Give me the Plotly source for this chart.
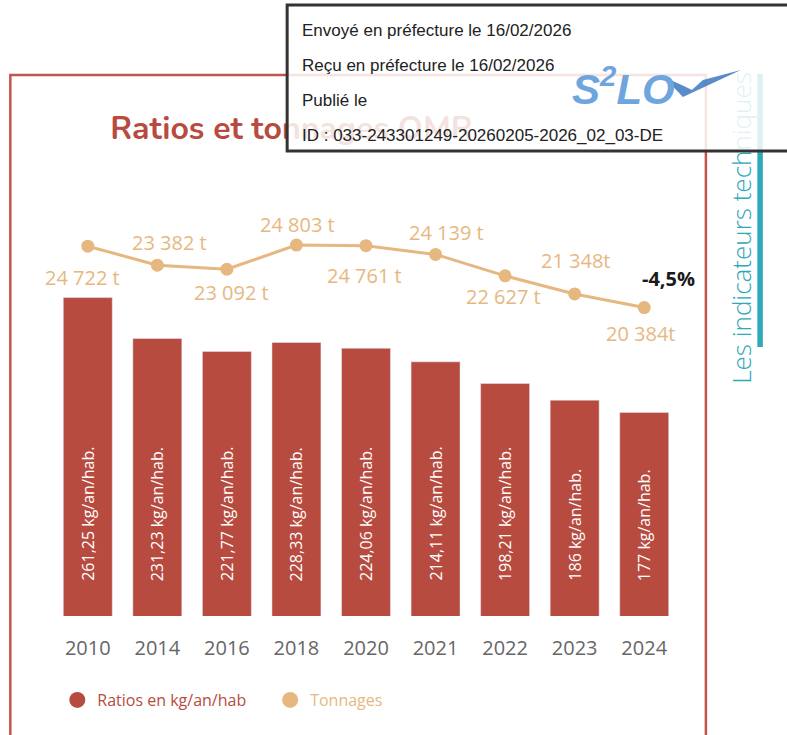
import plotly.graph_objects as go

# ---------------- data ----------------
years = ["2010", "2014", "2016", "2018", "2020", "2021", "2022", "2023", "2024"]
ratios = [261.25, 231.23, 221.77, 228.33, 224.06, 214.11, 198.21, 186, 177]
ratio_labels = ["261,25 kg/an/hab.", "231,23 kg/an/hab.", "221,77 kg/an/hab.",
                "228,33 kg/an/hab.", "224,06 kg/an/hab.", "214,11 kg/an/hab.",
                "198,21 kg/an/hab.", "186 kg/an/hab.", "177 kg/an/hab."]
tonnages = [24722, 23382, 23092, 24803, 24761, 24139, 22627, 21348, 20384]
tonnage_labels = ["24 722 t", "23 382 t", "23 092 t", "24 803 t", "24 761 t",
                  "24 139 t", "22 627 t", "21 348t", "20 384t"]

title_text = "Ratios et tonnages OMR"
side_text = "Les indicateurs techniques"
stamp_lines = ["Envoyé en préfecture le 16/02/2026",
               "Reçu en préfecture le 16/02/2026",
               "Publié le",
               "ID : 033-243301249-20260205-2026_02_03-DE"]
legend_names = ["Ratios en kg/an/hab", "Tonnages"]

# ---------------- style ----------------
RED = "#B84B40"
TAN = "#E6B880"
TEAL = "#2EA9B8"
W, H = 787, 735
ML, MR, MT, MB = 52.7, 107.9, 160, 119
PW, PH = W - ML - MR, H - MT - MB


def px(x):
    return (x - ML) / PW


def py(y):
    return (H - MB - y) / PH


# label offsets (style)
lab_dx = [-5, 12, 5, 1, -2, 11, -2, 1, -3]
lab_dy = [-31, 23, -23, 21, -30, 22, -21, 33, -26]

last_change = (tonnages[-1] - tonnages[-2]) / tonnages[-2] * 100
change_text = f"{last_change:.1f}%".replace(".", ",")

fig = go.Figure()
fig.add_trace(go.Bar(x=years, y=ratios, marker=dict(color=RED), showlegend=False,
                     hoverinfo="skip"))
fig.add_trace(go.Scatter(x=years, y=tonnages, yaxis="y2", mode="lines+markers",
                         line=dict(color=TAN, width=3),
                         marker=dict(color=TAN, size=13), showlegend=False,
                         hoverinfo="skip"))
# legend-only entries (circle icons), one legend each for exact placement
fig.add_trace(go.Scatter(x=[None], y=[None], mode="markers", legend="legend",
                         marker=dict(color=RED, size=18),
                         name=f"<span style='color:{RED}'>{legend_names[0]}</span>"))
fig.add_trace(go.Scatter(x=[None], y=[None], mode="markers", legend="legend2",
                         marker=dict(color=TAN, size=18),
                         name=f"<span style='color:{TAN}'>{legend_names[1]}</span>"))

annotations = []
y_bottom = 27.6
for i, lab in enumerate(ratio_labels):
    annotations.append(dict(x=i, y=y_bottom, xref="x", yref="y", text=lab,
                            textangle=-90, yanchor="bottom", xanchor="center",
                            yshift=33, showarrow=False,
                            font=dict(family="Open Sans", size=16, color="white")))
for i, (v, lab, dx, dy) in enumerate(zip(tonnages, tonnage_labels, lab_dx, lab_dy)):
    annotations.append(dict(x=i, y=v, xref="x", yref="y2", text=lab,
                            xshift=dx, yshift=dy, showarrow=False,
                            font=dict(family="Open Sans", size=20, color=TAN)))
annotations.append(dict(x=len(years) - 1, y=tonnages[-1], xref="x", yref="y2",
                        text=f"<b>{change_text}</b>", xshift=24, yshift=29,
                        showarrow=False,
                        font=dict(family="Open Sans", size=20, color="#1a1a1a")))
# stamp text lines
for i, line in enumerate(stamp_lines):
    annotations.append(dict(x=px(300), y=py(31 + i * 34.7), xref="paper", yref="paper",
                            text=line, xanchor="left", yanchor="middle",
                            showarrow=False,
                            font=dict(family="Liberation Sans", size=17, color="#222222")))
# logo
annotations.append(dict(x=px(624), y=py(86), xref="paper", yref="paper",
                        text="<b><i>S<sup>2</sup>LO</i></b>", showarrow=False,
                        xanchor="center", yanchor="middle",
                        font=dict(family="Liberation Sans", size=42, color="#6FA5DE")))

shapes = [
    # frame
    dict(type="rect", xref="paper", yref="paper", x0=px(10), x1=px(706),
         y0=py(760), y1=py(75), line=dict(color="#C0564C", width=2.5), layer="below"),
    # teal bar
    dict(type="rect", xref="paper", yref="paper", x0=px(757.5), x1=px(763),
         y0=py(347), y1=py(74), line=dict(width=0), fillcolor=TEAL, layer="below"),
    # title
    dict(type="rect", xref="paper", yref="paper", x0=px(107), x1=px(520),
         y0=py(148), y1=py(108), line=dict(width=0), layer="below",
         label=dict(text=f"<b>{title_text}</b>", textposition="middle left", padding=0,
                    font=dict(family="Nunito, Open Sans", size=32, color=RED))),
    # side text
    dict(type="rect", xref="paper", yref="paper", x0=px(732), x1=px(754),
         y0=py(384), y1=py(72), line=dict(width=0), layer="below",
         label=dict(text=side_text, textangle=-90, textposition="middle center",
                    padding=0,
                    font=dict(family="Open Sans", size=26, color=TEAL, weight=300))),
    # stamp
    dict(type="rect", xref="paper", yref="paper", x0=px(287), x1=px(800),
         y0=py(151), y1=py(5), line=dict(color="#333333", width=3),
         fillcolor="rgba(255,255,255,0.84)", layer="above"),
    # logo check mark
    dict(type="path", xref="paper", yref="paper", layer="above",
         path=(f"M {px(664)},{py(77)} L {px(683)},{py(97)} L {px(741)},{py(70)} "
               f"L {px(703)},{py(80)} L {px(692)},{py(90)} L {px(684)},{py(86)} Z"),
         line=dict(width=0), fillcolor="rgba(60,120,190,0.85)"),
]

legend_style = dict(orientation="h", yanchor="middle", xanchor="left",
                    font=dict(family="Open Sans", size=16), bgcolor="rgba(0,0,0,0)",
                    itemclick=False, itemdoubleclick=False)

fig.update_layout(
    width=W, height=H,
    margin=dict(l=ML, r=MR, t=MT, b=MB, pad=0),
    paper_bgcolor="white", plot_bgcolor="white",
    bargap=0.296,
    showlegend=True,
    legend=dict(x=px(57), y=py(700), **legend_style),
    legend2=dict(x=px(270), y=py(700), **legend_style),
    xaxis=dict(type="category", range=[-0.5, 8.5], showgrid=False, zeroline=False,
               showline=False, ticks="", ticklabelstandoff=18,
               tickfont=dict(family="Open Sans", size=20, color="#666666")),
    yaxis=dict(range=[y_bottom, 362.2], visible=False),
    yaxis2=dict(range=[-1413, 30813], overlaying="y", side="right", visible=False),
    annotations=annotations,
    shapes=shapes,
)

fig.write_html("out.html", config={"displayModeBar": False},
               post_script="document.body.style.margin='0';")
